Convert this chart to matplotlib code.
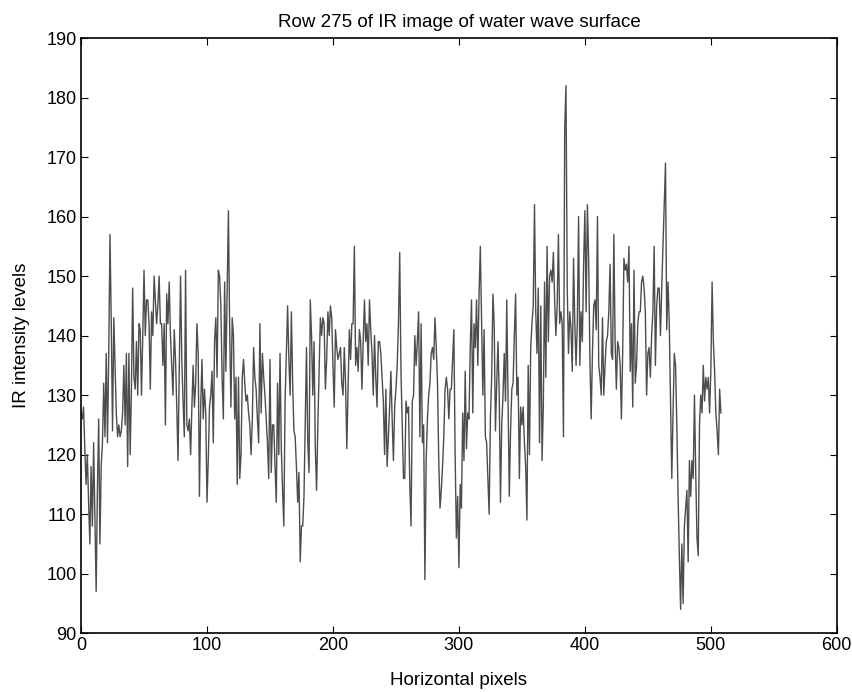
import numpy as np
import matplotlib
matplotlib.use("Agg")
import matplotlib.pyplot as plt

# IR intensity along row 275
row_0_61 = [127, 126, 128, 121, 115, 120, 112, 105, 118, 108,
            122, 110, 97, 114, 126, 105, 118, 122, 132, 123,
            137, 122, 137, 157, 142, 124, 143, 135, 127, 123,
            125, 123, 124, 127, 135, 125, 137, 118, 137, 120,
            131, 148, 133, 131, 139, 130, 142, 141, 130, 140,
            151, 140, 146, 146, 142, 131, 144, 140, 150, 146,
            142, 145]
row_62_126 = [150, 142, 142, 135, 142, 125, 147, 142, 149, 140,
              135, 130, 141, 136, 128, 119, 135, 150, 136, 129,
              123, 151, 125, 124, 126, 120, 128, 135, 128, 132,
              142, 137, 113, 128, 136, 126, 131, 127, 112, 119,
              128, 130, 134, 122, 139, 143, 133, 151, 150, 145,
              133, 126, 149, 134, 148, 161, 141, 128, 143, 140,
              126, 133, 115, 133, 116]
row_127_191 = [120, 133, 136, 132, 129, 130, 127, 125, 120, 126,
               138, 133, 131, 126, 122, 142, 127, 137, 133, 130,
               126, 122, 116, 136, 117, 125, 125, 118, 112, 132,
               120, 137, 121, 114, 108, 129, 137, 145, 136, 130,
               144, 132, 124, 123, 118, 112, 117, 102, 108, 108,
               113, 125, 138, 122, 117, 146, 140, 130, 139, 121,
               114, 125, 134, 143, 140]
row_192_256 = [143, 142, 131, 136, 144, 140, 145, 143, 135, 128,
               141, 138, 136, 137, 138, 132, 130, 138, 132, 121,
               131, 141, 136, 142, 142, 155, 135, 138, 134, 141,
               139, 131, 139, 146, 139, 142, 135, 146, 141, 137,
               130, 140, 133, 128, 139, 139, 137, 133, 129, 120,
               131, 118, 123, 128, 134, 126, 119, 128, 131, 135,
               142, 154, 134, 125, 116]
row_257_321 = [116, 129, 127, 128, 115, 108, 129, 130, 140, 135,
               139, 144, 123, 142, 122, 125, 99, 119, 126, 130,
               132, 137, 138, 136, 143, 138, 132, 119, 111, 114,
               118, 123, 131, 133, 131, 126, 131, 131, 136, 141,
               120, 106, 113, 101, 115, 111, 127, 119, 134, 121,
               127, 126, 138, 146, 127, 142, 138, 146, 135, 147,
               155, 142, 130, 141, 123]
row_322_386 = [122, 116, 110, 126, 133, 147, 142, 124, 132, 139,
               130, 112, 125, 130, 137, 129, 146, 130, 113, 124,
               131, 132, 140, 147, 130, 133, 116, 128, 125, 128,
               122, 118, 109, 135, 120, 138, 142, 145, 162, 144,
               137, 148, 122, 145, 119, 128, 149, 133, 155, 139,
               150, 151, 149, 154, 146, 140, 145, 157, 142, 144,
               142, 123, 175, 182, 148]
row_387_450 = [137, 144, 141, 134, 153, 142, 135, 142, 160, 135,
               144, 139, 152, 161, 144, 162, 153, 136, 126, 137,
               145, 146, 141, 160, 135, 133, 130, 143, 130, 135,
               139, 140, 144, 152, 137, 136, 157, 139, 131, 139,
               138, 135, 126, 137, 153, 151, 152, 149, 155, 134,
               142, 128, 151, 132, 135, 142, 144, 144, 149, 150,
               148, 144, 130, 137]
row_451_508 = [138, 133, 140, 144, 155, 135, 145, 148, 148, 140,
               148, 155, 162, 169, 141, 149, 142, 129, 116, 127,
               137, 135, 125, 113, 103, 94, 105, 95, 108, 111,
               114, 102, 119, 113, 119, 116, 130, 117, 106, 103,
               125, 130, 127, 135, 129, 133, 131, 133, 127, 134,
               149, 139, 134, 127, 124, 120, 131, 127]

intensity = np.array(row_0_61 + row_62_126 + row_127_191 + row_192_256
                     + row_257_321 + row_322_386 + row_387_450 + row_451_508)
pixels = np.arange(len(intensity))

plt.rcParams['font.family'] = ['Liberation Sans', 'DejaVu Sans']

fig = plt.figure(figsize=(8.53, 6.92), dpi=100)
ax = fig.add_axes([0.095, 0.085, 0.886, 0.86])
ax.plot(pixels, intensity, color='#4d4d4d', linewidth=1.0)

ax.set_xlim(0, 600)
ax.set_ylim(90, 190)
ax.set_xticks(np.arange(0, 601, 100))
ax.set_yticks(np.arange(90, 191, 10))
ax.tick_params(direction='in', top=True, right=True, length=5, width=0.8,
               labelsize=13, pad=3)
for s in ax.spines.values():
    s.set_linewidth(1.2)

ax.set_title('Row 275 of IR image of water wave surface', fontsize=13.5, pad=8)
ax.set_xlabel('Horizontal pixels', fontsize=13.5, labelpad=13)
ax.set_ylabel('IR intensity levels', fontsize=13.5, labelpad=12)

fig.savefig('out.png', dpi=100)
